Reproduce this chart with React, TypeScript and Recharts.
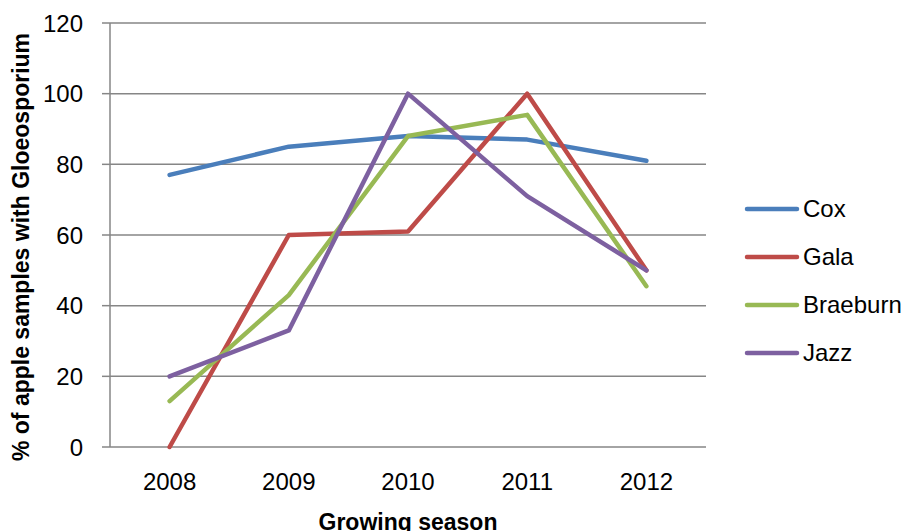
import React from 'react';
import { LineChart, Line, XAxis, YAxis, CartesianGrid, Legend } from 'recharts';

const categories = ['2008', '2009', '2010', '2011', '2012'];
const cox = [77, 85, 88, 87, 81];
const gala = [0, 60, 61, 100, 50];
const braeburn = [13, 43, 88, 94, 45.5];
const jazz = [20, 33, 100, 71, 50];
const seriesNames = ['Cox', 'Gala', 'Braeburn', 'Jazz'];
const seriesColors = ['#4A7EBB', '#BE4B48', '#98B954', '#7D60A0'];
const yTicks = [0, 20, 40, 60, 80, 100, 120];

const seriesValues = [cox, gala, braeburn, jazz];
const data = categories.map((c, i) => {
  const row: any = { x: i, year: c };
  seriesNames.forEach((n, k) => {
    row[n] = seriesValues[k][i];
  });
  return row;
});
const centerTicks = categories.map((_, i) => i);
const edgeTicks = [...categories.map((_, i) => i - 0.5), categories.length - 0.5];
const xDomain = [-0.5, categories.length - 0.5];

const FONT = '"Liberation Sans", Arial, sans-serif';
const GRID = '#868686';

const renderLegend = () => (
  <div style={{ width: 160 }}>
    {seriesNames.map((n, k) => (
      <div key={n} style={{ height: 48 }}>
        <svg width={160} height={48} style={{ display: 'block', overflow: 'visible' }}>
          <line x1={41} x2={91} y1={24} y2={24} stroke={seriesColors[k]} strokeWidth={4.5} strokeLinecap="round" />
          <text x={97} y={24} dy="0.35em" fontSize={24} fontFamily={FONT} fill="#000">
            {n}
          </text>
        </svg>
      </div>
    ))}
  </div>
);

const YLabel = (props: any) => {
  const vb = props.viewBox || { x: 0, y: 23, width: 110, height: 424 };
  const x = vb.x + 29;
  const y = vb.y + vb.height / 2 + 12;
  return (
    <text
      x={x}
      y={y}
      transform={`rotate(-90, ${x}, ${y})`}
      textAnchor="middle"
      fontSize={23}
      fontWeight="bold"
      fontFamily={FONT}
      fill="#000"
    >
      % of apple samples with Gloeosporium
    </text>
  );
};

export default function App() {
  return (
    <div style={{ position: 'absolute', left: 0, top: 0, background: '#fff' }}>
      <LineChart width={905} height={531} data={data} margin={{ top: 23, right: 39, bottom: 0, left: 0 }}>
        <CartesianGrid vertical={false} stroke={GRID} strokeWidth={1.5} />
        <XAxis
          xAxisId="edges"
          type="number"
          dataKey="x"
          domain={xDomain}
          ticks={edgeTicks}
          tick={false}
          tickSize={8}
          height={0}
          stroke={GRID}
          strokeWidth={1.5}
          allowDataOverflow
        />
        <XAxis
          type="number"
          dataKey="x"
          domain={xDomain}
          ticks={centerTicks}
          tickFormatter={(v: number) => categories[v]}
          axisLine={false}
          tickLine={false}
          tickSize={0}
          tickMargin={26}
          height={84}
          tick={{ fontSize: 24, fontFamily: FONT, fill: '#000' }}
          interval={0}
          allowDataOverflow
          label={{
            value: 'Growing season',
            position: 'insideBottom',
            offset: 1.5,
            style: { fontSize: 23, fontWeight: 'bold', fontFamily: FONT, fill: '#000' },
          }}
        />
        <YAxis
          width={110}
          domain={[0, 120]}
          ticks={yTicks}
          tickSize={8}
          tickMargin={19}
          stroke={GRID}
          strokeWidth={1.5}
          tick={{ fontSize: 24, fontFamily: FONT, fill: '#000' }}
          interval={0}
          label={<YLabel />}
        />
        <Legend
          layout="vertical"
          align="right"
          verticalAlign="middle"
          content={renderLegend}
          wrapperStyle={{ width: 160, height: 192, top: 185 }}
        />
        {seriesNames.map((n, k) => (
          <Line
            key={n}
            dataKey={n}
            stroke={seriesColors[k]}
            strokeWidth={4.5}
            dot={false}
            activeDot={false}
            strokeLinecap="round"
            strokeLinejoin="round"
            isAnimationActive={false}
          />
        ))}
      </LineChart>
    </div>
  );
}
